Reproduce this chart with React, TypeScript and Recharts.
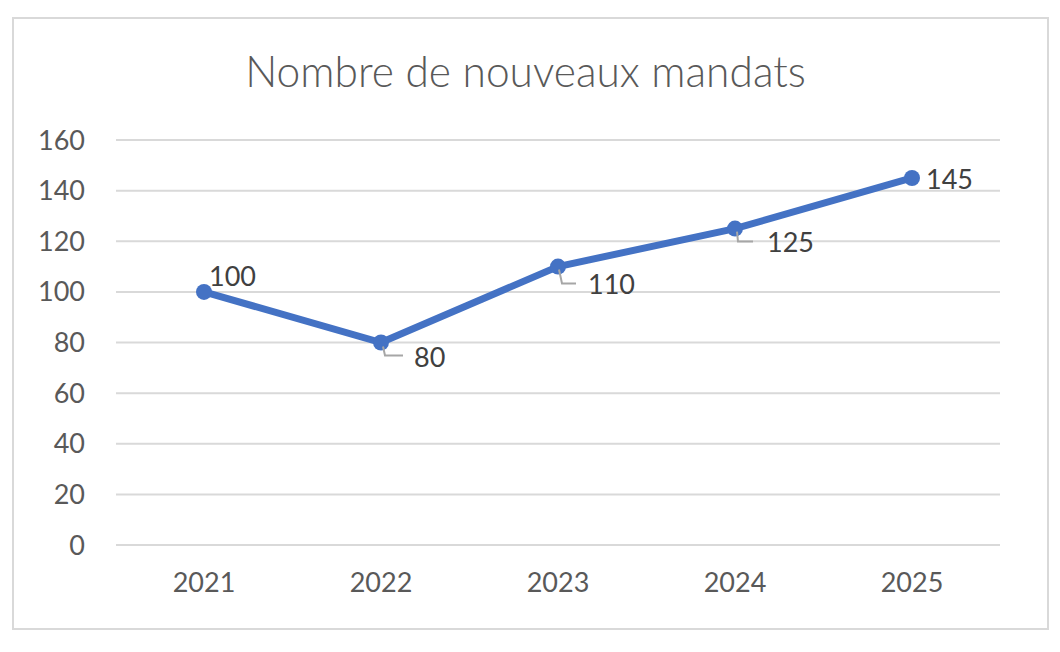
import { CartesianGrid, LabelList, Line, LineChart, XAxis, YAxis } from "recharts";

const years = ["2021", "2022", "2023", "2024", "2025"];
const mandates = [100, 80, 110, 125, 145];
const yTicks = [0, 20, 40, 60, 80, 100, 120, 140, 160];

const data = years.map((year, i) => ({ year, mandats: mandates[i] }));

// where each data label sits relative to its point, with optional leader line
const labelPlacement: { dx: number; dy: number; leader?: number[][] }[] = [
  { dx: 5, dy: -16 },
  { dx: 33, dy: 14, leader: [[2, 4], [4, 13], [22, 13]] },
  { dx: 30, dy: 17, leader: [[1, 3], [4, 17], [18, 17]] },
  { dx: 32, dy: 13, leader: [[2, 3], [3, 13], [18, 13]] },
  { dx: 14, dy: 1 },
];

const font = "Lato, 'Open Sans', sans-serif";

function PointLabel(props: any) {
  const x = props.x ?? props.viewBox?.x;
  const y = props.y ?? props.viewBox?.y;
  const p = labelPlacement[props.index] ?? { dx: 10, dy: 0 };
  return (
    <g>
      {p.leader && (
        <polyline
          points={p.leader.map(([a, b]) => `${x + a},${y + b}`).join(" ")}
          fill="none"
          stroke="#a6a6a6"
          strokeWidth={2}
        />
      )}
      <text x={x + p.dx} y={y + p.dy} dominantBaseline="central" fill="#404040" fontSize={27} fontFamily={font}>
        {props.value}
      </text>
    </g>
  );
}

export default function App() {
  return (
    <div style={{ position: "absolute", left: 0, top: 0, width: 1060, height: 652, background: "#fff" }}>
      <div
        style={{
          position: "absolute",
          left: 12,
          top: 17,
          width: 1033,
          height: 609,
          border: "2px solid #d9d9d9",
        }}
      />
      <div
        style={{
          position: "absolute",
          left: 0,
          top: 44,
          width: 1051,
          textAlign: "center",
          fontFamily: font,
          fontWeight: 300,
          fontSize: 42.5,
          color: "#595959",
          lineHeight: "54px",
        }}
      >
        Nombre de nouveaux mandats
      </div>
      <div style={{ position: "absolute", left: 0, top: 0 }}>
        <LineChart width={1060} height={652} data={data} margin={{ top: 140, right: 60, bottom: 47, left: 0 }}>
          <CartesianGrid vertical={false} stroke="#d9d9d9" strokeWidth={2} />
          <XAxis
            dataKey="year"
            padding={{ left: 88, right: 88 }}
            height={60}
            tickSize={0}
            tickMargin={28}
            tickLine={false}
            axisLine={{ stroke: "#d9d9d9", strokeWidth: 2 }}
            tick={{ fill: "#595959", fontSize: 27, fontFamily: font }}
          />
          <YAxis
            domain={[0, 160]}
            ticks={yTicks}
            width={116}
            tickSize={0}
            tickMargin={31}
            tickLine={false}
            axisLine={false}
            tick={{ fill: "#595959", fontSize: 27, fontFamily: font }}
          />
          <Line
            type="linear"
            dataKey="mandats"
            stroke="#4472c4"
            strokeWidth={7}
            dot={{ r: 8, fill: "#4472c4", stroke: "none" }}
            isAnimationActive={false}
          >
            <LabelList dataKey="mandats" content={<PointLabel />} />
          </Line>
        </LineChart>
      </div>
    </div>
  );
}
